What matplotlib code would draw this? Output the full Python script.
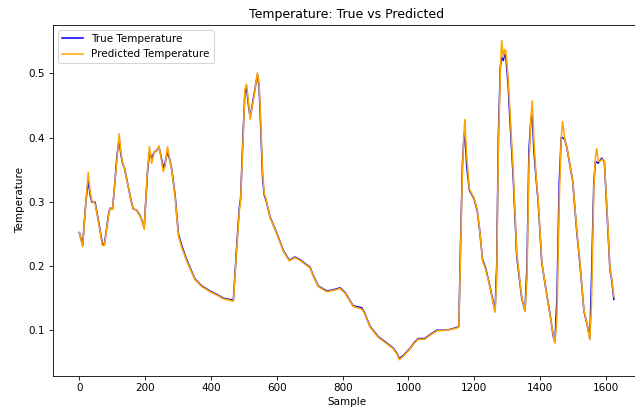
import matplotlib
matplotlib.use("Agg")
import matplotlib.pyplot as plt

samples = [0, 10, 20, 27, 33, 38, 48, 60, 70, 76, 88, 93, 101, 108, 114, 121, 126, 131, 137, 149,
           158, 164, 174, 184, 192, 197, 207, 213, 220, 227, 235, 242, 248, 255, 260, 268, 275, 281,
           291, 301, 311, 326, 331, 351, 372, 397, 417, 437, 455, 468, 478, 486, 490, 497, 503, 508,
           514, 519, 525, 531, 541, 546, 550, 557, 562, 567, 579, 600, 620, 638, 655, 670, 680, 701,
           711, 726, 752, 772, 792, 807, 832, 858, 866, 883, 908, 934, 954, 965, 972, 985, 1005, 1018,
           1030, 1050, 1065, 1086, 1116, 1146, 1153, 1158, 1164, 1169, 1171, 1177, 1185, 1199, 1209,
           1217, 1225, 1235, 1248, 1263, 1268, 1273, 1279, 1283, 1288, 1292, 1296, 1303, 1308, 1318,
           1329, 1344, 1354, 1360, 1366, 1372, 1376, 1381, 1387, 1394, 1405, 1415, 1430, 1440, 1445,
           1451, 1458, 1464, 1468, 1475, 1481, 1499, 1511, 1521, 1533, 1543, 1551, 1556, 1563, 1568,
           1572, 1576, 1580, 1587, 1595, 1604, 1612, 1617, 1624]

true_temp = [0.252, 0.233, 0.300, 0.335, 0.310, 0.300, 0.299, 0.265, 0.235, 0.233, 0.278, 0.290, 0.289,
             0.330, 0.370, 0.398, 0.375, 0.360, 0.353, 0.323, 0.300, 0.289, 0.287, 0.279, 0.268, 0.260,
             0.345, 0.378, 0.368, 0.377, 0.380, 0.385, 0.372, 0.352, 0.360, 0.378, 0.365, 0.350, 0.310,
             0.250, 0.232, 0.210, 0.204, 0.180, 0.169, 0.161, 0.156, 0.150, 0.148, 0.147, 0.230, 0.290,
             0.305, 0.400, 0.470, 0.478, 0.450, 0.432, 0.450, 0.468, 0.498, 0.480, 0.430, 0.335, 0.310,
             0.303, 0.277, 0.251, 0.224, 0.209, 0.214, 0.210, 0.206, 0.198, 0.185, 0.169, 0.161, 0.163,
             0.166, 0.159, 0.138, 0.135, 0.128, 0.106, 0.090, 0.080, 0.072, 0.064, 0.056, 0.061, 0.072,
             0.081, 0.087, 0.087, 0.093, 0.100, 0.100, 0.104, 0.106, 0.230, 0.360, 0.405, 0.410, 0.355,
             0.318, 0.305, 0.286, 0.252, 0.210, 0.196, 0.167, 0.130, 0.200, 0.400, 0.510, 0.525, 0.520,
             0.530, 0.525, 0.480, 0.430, 0.340, 0.215, 0.150, 0.130, 0.200, 0.380, 0.430, 0.435, 0.380,
             0.340, 0.300, 0.205, 0.172, 0.125, 0.090, 0.082, 0.150, 0.330, 0.400, 0.400, 0.397, 0.385,
             0.332, 0.255, 0.203, 0.130, 0.108, 0.087, 0.180, 0.330, 0.362, 0.362, 0.360, 0.363, 0.368,
             0.363, 0.276, 0.195, 0.180, 0.148]

pred_temp = [0.252, 0.230, 0.300, 0.346, 0.315, 0.302, 0.297, 0.263, 0.232, 0.232, 0.276, 0.290, 0.288,
             0.330, 0.365, 0.406, 0.378, 0.362, 0.352, 0.323, 0.300, 0.289, 0.287, 0.278, 0.268, 0.257,
             0.349, 0.386, 0.360, 0.377, 0.379, 0.387, 0.370, 0.347, 0.354, 0.386, 0.365, 0.349, 0.307,
             0.247, 0.229, 0.208, 0.202, 0.179, 0.168, 0.160, 0.155, 0.149, 0.147, 0.145, 0.225, 0.285,
             0.302, 0.390, 0.475, 0.483, 0.455, 0.428, 0.448, 0.465, 0.501, 0.485, 0.440, 0.345, 0.312,
             0.305, 0.276, 0.250, 0.223, 0.208, 0.213, 0.209, 0.205, 0.197, 0.184, 0.168, 0.160, 0.162,
             0.165, 0.158, 0.137, 0.133, 0.127, 0.105, 0.089, 0.079, 0.071, 0.063, 0.054, 0.060, 0.071,
             0.080, 0.086, 0.086, 0.092, 0.099, 0.100, 0.103, 0.105, 0.215, 0.350, 0.410, 0.428, 0.370,
             0.320, 0.306, 0.288, 0.252, 0.208, 0.194, 0.166, 0.128, 0.180, 0.380, 0.500, 0.551, 0.525,
             0.537, 0.535, 0.490, 0.445, 0.350, 0.220, 0.152, 0.129, 0.180, 0.360, 0.430, 0.457, 0.395,
             0.345, 0.302, 0.207, 0.172, 0.124, 0.092, 0.080, 0.120, 0.300, 0.400, 0.425, 0.397, 0.386,
             0.333, 0.258, 0.205, 0.131, 0.108, 0.085, 0.140, 0.320, 0.370, 0.383, 0.365, 0.362, 0.366,
             0.364, 0.280, 0.198, 0.182, 0.152]

title = "Temperature: True vs Predicted"
xlabel = "Sample"
ylabel = "Temperature"

DPI = 75
W, H = 635, 412
fig = plt.figure(figsize=(W / DPI, H / DPI), dpi=DPI)
ax = fig.add_axes([52.6 / W, (H - 375.7) / H, (640.6 - 52.6) / W, (375.7 - 24.7) / H])
ax.plot(samples, true_temp, color="blue", label="True Temperature")
ax.plot(samples, pred_temp, color="orange", label="Predicted Temperature")
ax.set_title(title)
ax.set_xlabel(xlabel)
ax.set_ylabel(ylabel)
ax.set_xticks([0, 200, 400, 600, 800, 1000, 1200, 1400, 1600])
ax.set_yticks([0.1, 0.2, 0.3, 0.4, 0.5])
ax.legend(loc="upper left")
fig.savefig("out.png", dpi=DPI)
